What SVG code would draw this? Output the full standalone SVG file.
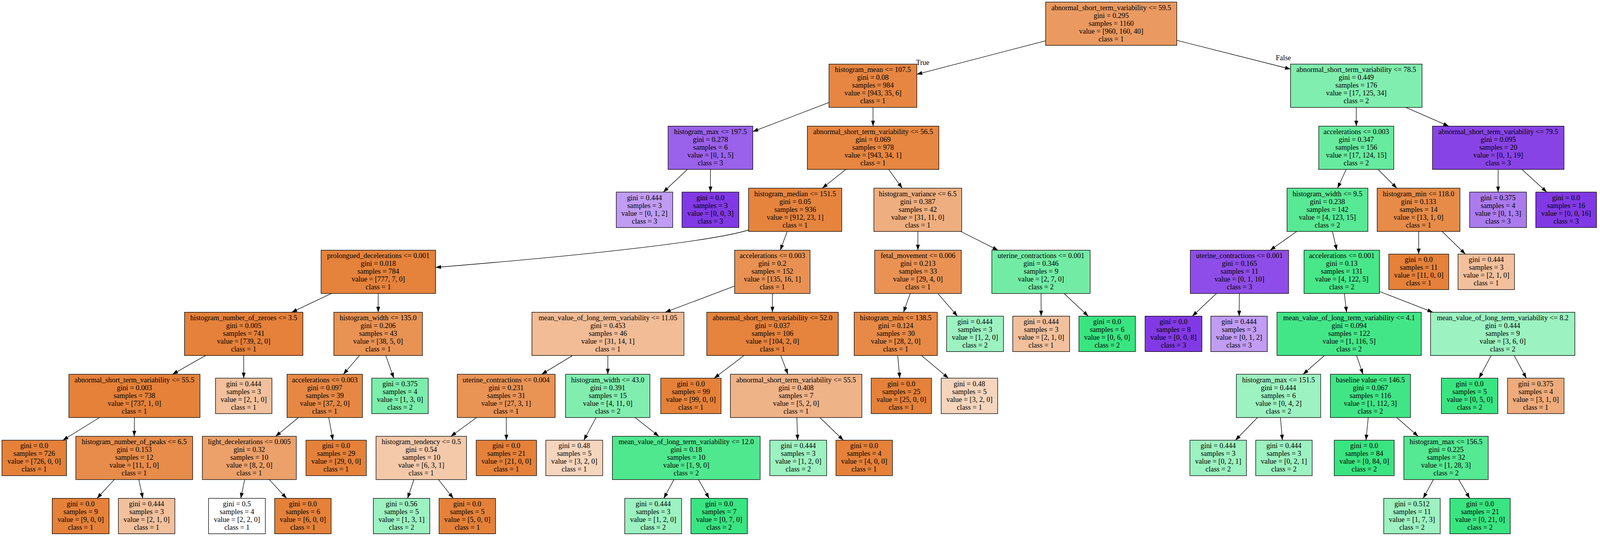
<svg xmlns="http://www.w3.org/2000/svg" width="4132" height="1371" viewBox="0 0 4132 1371">
<style>
.bg{stroke:none;fill:#fff}
.nd rect{stroke:#000;stroke-width:1.33}
text{font-family:"Liberation Serif","Times New Roman",serif;font-size:18.67px;text-anchor:middle;fill:#000}
.lbl{text-anchor:start}
.e{stroke:#000;stroke-width:1.33;fill:none}
.o{fill:#e58139}.g{fill:#39e581}.p{fill:#8139e5}
.lo{fill:#f2c09c}.lg{fill:#9cf2c0}.lp{fill:#c09cf2}
</style>
<defs>
<marker id="a" markerUnits="userSpaceOnUse" markerWidth="16" markerHeight="12" refX="14" refY="5" orient="auto" viewBox="0 0 16 12" overflow="visible">
<path d="M0,0 L14,5 L0,10 z" fill="#000"/>
</marker>
</defs>
<rect class="bg" width="4132" height="1371"/>
<g transform="scale(0.99032 1)">
<g id="connectors" class="e">
<line x1="2703" y1="104.33" x2="2370" y2="190.09" marker-end="url(#a)"/>
<line x1="3042" y1="103.12" x2="3336" y2="176.75" marker-end="url(#a)"/>
<line x1="2143" y1="262.21" x2="1946" y2="336.63" marker-end="url(#a)"/>
<line x1="2256.7" y1="274.67" x2="2256.8" y2="322.67" marker-end="url(#a)"/>
<line x1="3506" y1="274.67" x2="3506" y2="322.67" marker-end="url(#a)"/>
<line x1="3634" y1="274.67" x2="3745" y2="322.67" marker-end="url(#a)"/>
<line x1="1777" y1="433.33" x2="1714.7" y2="491.33" marker-end="url(#a)"/>
<line x1="1836.5" y1="433.33" x2="1836.5" y2="491.33" marker-end="url(#a)"/>
<line x1="2186.7" y1="433.33" x2="2125.8" y2="481.33" marker-end="url(#a)"/>
<line x1="2297.3" y1="433.33" x2="2332.2" y2="481.33" marker-end="url(#a)"/>
<line x1="3480" y1="433.33" x2="3457.5" y2="481.33" marker-end="url(#a)"/>
<line x1="3562.2" y1="433.33" x2="3610.9" y2="481.33" marker-end="url(#a)"/>
<line x1="3872.8" y1="433.33" x2="3872.6" y2="491.33" marker-end="url(#a)"/>
<line x1="3934.2" y1="433.33" x2="3998.4" y2="491.33" marker-end="url(#a)"/>
<path d="M1936,588 C1850,615 1550,650 1126,684" marker-end="url(#a)"/>
<line x1="2034.9" y1="592" x2="2017.1" y2="640" marker-end="url(#a)"/>
<line x1="2372.7" y1="592" x2="2372.8" y2="640" marker-end="url(#a)"/>
<line x1="2483.6" y1="592" x2="2579.9" y2="640" marker-end="url(#a)"/>
<line x1="3352.2" y1="592" x2="3283.3" y2="640" marker-end="url(#a)"/>
<line x1="3444.4" y1="592" x2="3455.6" y2="640" marker-end="url(#a)"/>
<line x1="3667.2" y1="592" x2="3667.3" y2="650" marker-end="url(#a)"/>
<line x1="3728" y1="592" x2="3788" y2="650" marker-end="url(#a)"/>
<line x1="856.6" y1="750.67" x2="754" y2="798.67" marker-end="url(#a)"/>
<line x1="977.8" y1="750.67" x2="977.7" y2="798.67" marker-end="url(#a)"/>
<line x1="1899" y1="731.73" x2="1719.7" y2="798.67" marker-end="url(#a)"/>
<line x1="1996.7" y1="750.67" x2="1996.8" y2="798.67" marker-end="url(#a)"/>
<line x1="2353" y1="750.67" x2="2335.6" y2="798.67" marker-end="url(#a)"/>
<line x1="2424.4" y1="750.67" x2="2475" y2="808.67" marker-end="url(#a)"/>
<line x1="2691.2" y1="750.67" x2="2691.4" y2="808.67" marker-end="url(#a)"/>
<line x1="2750.6" y1="750.67" x2="2813.2" y2="808.67" marker-end="url(#a)"/>
<line x1="3144.5" y1="750.67" x2="3082.2" y2="808.67" marker-end="url(#a)"/>
<line x1="3203.7" y1="750.67" x2="3203.3" y2="808.67" marker-end="url(#a)"/>
<line x1="3475.1" y1="750.67" x2="3480.9" y2="798.67" marker-end="url(#a)"/>
<line x1="3566" y1="745.5" x2="3704" y2="798.67" marker-end="url(#a)"/>
<line x1="531.5" y1="909.33" x2="446" y2="957.33" marker-end="url(#a)"/>
<line x1="630" y1="909.33" x2="630" y2="967.33" marker-end="url(#a)"/>
<line x1="929.4" y1="909.33" x2="887.6" y2="957.33" marker-end="url(#a)"/>
<line x1="997.2" y1="909.33" x2="1017.9" y2="967.33" marker-end="url(#a)"/>
<line x1="1480" y1="909.33" x2="1400.3" y2="957.33" marker-end="url(#a)"/>
<line x1="1571.3" y1="909.33" x2="1571.2" y2="957.33" marker-end="url(#a)"/>
<line x1="1923.4" y1="909.33" x2="1846.3" y2="967.33" marker-end="url(#a)"/>
<line x1="2018.3" y1="909.33" x2="2036.7" y2="957.33" marker-end="url(#a)"/>
<line x1="2320.6" y1="909.33" x2="2325.9" y2="967.33" marker-end="url(#a)"/>
<line x1="2381.9" y1="909.33" x2="2451.6" y2="967.33" marker-end="url(#a)"/>
<line x1="3423.9" y1="909.33" x2="3368.6" y2="957.33" marker-end="url(#a)"/>
<line x1="3506.7" y1="909.33" x2="3523.3" y2="957.33" marker-end="url(#a)"/>
<line x1="3854.7" y1="909.33" x2="3823.4" y2="967.33" marker-end="url(#a)"/>
<line x1="3914.3" y1="909.33" x2="3945.6" y2="967.33" marker-end="url(#a)"/>
<line x1="257.2" y1="1068" x2="162.5" y2="1126" marker-end="url(#a)"/>
<line x1="347.5" y1="1068" x2="347" y2="1116" marker-end="url(#a)"/>
<line x1="771.5" y1="1068" x2="712.5" y2="1116" marker-end="url(#a)"/>
<line x1="849.8" y1="1068" x2="860.6" y2="1126" marker-end="url(#a)"/>
<line x1="1232" y1="1068" x2="1165.6" y2="1116" marker-end="url(#a)"/>
<line x1="1308.8" y1="1068" x2="1309" y2="1126" marker-end="url(#a)"/>
<line x1="1540.8" y1="1068" x2="1509.2" y2="1126" marker-end="url(#a)"/>
<line x1="1641.8" y1="1068" x2="1703.2" y2="1116" marker-end="url(#a)"/>
<line x1="2059.9" y1="1068" x2="2061.9" y2="1126" marker-end="url(#a)"/>
<line x1="2119.4" y1="1068" x2="2180" y2="1126" marker-end="url(#a)"/>
<line x1="3250.6" y1="1068" x2="3193.6" y2="1126" marker-end="url(#a)"/>
<line x1="3309.9" y1="1068" x2="3315" y2="1126" marker-end="url(#a)"/>
<line x1="3536.9" y1="1068" x2="3531.1" y2="1126" marker-end="url(#a)"/>
<line x1="3610.7" y1="1068" x2="3666" y2="1116" marker-end="url(#a)"/>
<line x1="295.5" y1="1226.67" x2="250.7" y2="1274.67" marker-end="url(#a)"/>
<line x1="358.9" y1="1226.67" x2="369.2" y2="1274.67" marker-end="url(#a)"/>
<line x1="632.6" y1="1226.67" x2="622.3" y2="1274.67" marker-end="url(#a)"/>
<line x1="696" y1="1226.67" x2="740.8" y2="1274.67" marker-end="url(#a)"/>
<line x1="1070" y1="1226.67" x2="1053.6" y2="1274.67" marker-end="url(#a)"/>
<line x1="1133.3" y1="1226.67" x2="1171.7" y2="1274.67" marker-end="url(#a)"/>
<line x1="1742.2" y1="1226.67" x2="1716" y2="1274.67" marker-end="url(#a)"/>
<line x1="1805.6" y1="1226.67" x2="1833.1" y2="1274.67" marker-end="url(#a)"/>
<line x1="3705.3" y1="1226.67" x2="3679" y2="1274.67" marker-end="url(#a)"/>
<line x1="3770.8" y1="1226.67" x2="3799.2" y2="1274.67" marker-end="url(#a)"/>
</g>
<g id="edge-labels">
<text class="lbl" x="2368" y="166">True</text>
<text class="lbl" x="3298" y="154">False</text>
</g>
<g class="nd">
<g id="n0"><rect x="2703" y="5.33" width="339" height="110.67" fill="#ea9a61"/><text x="2872.5" y="25.63"><tspan x="2872.5">abnormal_short_term_variability &lt;= 59.5</tspan><tspan x="2872.5" dy="20">gini = 0.295</tspan><tspan x="2872.5" dy="20">samples = 1160</tspan><tspan x="2872.5" dy="20">value = [960, 160, 40]</tspan><tspan x="2872.5" dy="20">class = 1</tspan></text></g>
<g id="n1"><rect x="2143" y="164" width="227" height="110.67" fill="#e68642"/><text x="2256.5" y="184.3"><tspan x="2256.5">histogram_mean &lt;= 107.5</tspan><tspan x="2256.5" dy="20">gini = 0.08</tspan><tspan x="2256.5" dy="20">samples = 984</tspan><tspan x="2256.5" dy="20">value = [943, 35, 6]</tspan><tspan x="2256.5" dy="20">class = 1</tspan></text></g>
<g id="n2"><rect x="3336" y="164" width="340" height="110.67" fill="#80eeae"/><text x="3506" y="184.3"><tspan x="3506">abnormal_short_term_variability &lt;= 78.5</tspan><tspan x="3506" dy="20">gini = 0.449</tspan><tspan x="3506" dy="20">samples = 176</tspan><tspan x="3506" dy="20">value = [17, 125, 34]</tspan><tspan x="3506" dy="20">class = 2</tspan></text></g>
<g id="n3"><rect x="1727" y="322.67" width="219" height="110.67" fill="#9a61ea"/><text x="1836.5" y="342.97"><tspan x="1836.5">histogram_max &lt;= 197.5</tspan><tspan x="1836.5" dy="20">gini = 0.278</tspan><tspan x="1836.5" dy="20">samples = 6</tspan><tspan x="1836.5" dy="20">value = [0, 1, 5]</tspan><tspan x="1836.5" dy="20">class = 3</tspan></text></g>
<g id="n4"><rect x="2087" y="322.67" width="340" height="110.67" fill="#e68640"/><text x="2257" y="342.97"><tspan x="2257">abnormal_short_term_variability &lt;= 56.5</tspan><tspan x="2257" dy="20">gini = 0.069</tspan><tspan x="2257" dy="20">samples = 978</tspan><tspan x="2257" dy="20">value = [943, 34, 1]</tspan><tspan x="2257" dy="20">class = 1</tspan></text></g>
<g id="n5"><rect x="3409" y="322.67" width="194" height="110.67" fill="#67eb9e"/><text x="3506" y="342.97"><tspan x="3506">accelerations &lt;= 0.003</tspan><tspan x="3506" dy="20">gini = 0.347</tspan><tspan x="3506" dy="20">samples = 156</tspan><tspan x="3506" dy="20">value = [17, 124, 15]</tspan><tspan x="3506" dy="20">class = 2</tspan></text></g>
<g id="n6"><rect x="3703" y="322.67" width="340" height="110.67" fill="#8843e6"/><text x="3873" y="342.97"><tspan x="3873">abnormal_short_term_variability &lt;= 79.5</tspan><tspan x="3873" dy="20">gini = 0.095</tspan><tspan x="3873" dy="20">samples = 20</tspan><tspan x="3873" dy="20">value = [0, 1, 19]</tspan><tspan x="3873" dy="20">class = 3</tspan></text></g>
<g id="n7"><rect class="lp" x="1593" y="491.33" width="146" height="90.67"/><text x="1666" y="511.63"><tspan x="1666">gini = 0.444</tspan><tspan x="1666" dy="20">samples = 3</tspan><tspan x="1666" dy="20">value = [0, 1, 2]</tspan><tspan x="1666" dy="20">class = 3</tspan></text></g>
<g id="n8"><rect class="p" x="1763" y="491.33" width="147" height="90.67"/><text x="1836.5" y="511.63"><tspan x="1836.5">gini = 0.0</tspan><tspan x="1836.5" dy="20">samples = 3</tspan><tspan x="1836.5" dy="20">value = [0, 0, 3]</tspan><tspan x="1836.5" dy="20">class = 3</tspan></text></g>
<g id="n9"><rect x="1935" y="481.33" width="241" height="110.67" fill="#e6843e"/><text x="2055.5" y="501.63"><tspan x="2055.5">histogram_median &lt;= 151.5</tspan><tspan x="2055.5" dy="20">gini = 0.05</tspan><tspan x="2055.5" dy="20">samples = 936</tspan><tspan x="2055.5" dy="20">value = [912, 23, 1]</tspan><tspan x="2055.5" dy="20">class = 1</tspan></text></g>
<g id="n10"><rect x="2259" y="481.33" width="227" height="110.67" fill="#eeae7f"/><text x="2372.5" y="501.63"><tspan x="2372.5">histogram_variance &lt;= 6.5</tspan><tspan x="2372.5" dy="20">gini = 0.387</tspan><tspan x="2372.5" dy="20">samples = 42</tspan><tspan x="2372.5" dy="20">value = [31, 11, 0]</tspan><tspan x="2372.5" dy="20">class = 1</tspan></text></g>
<g id="n11"><rect x="3327" y="481.33" width="209" height="110.67" fill="#57e994"/><text x="3431.5" y="501.63"><tspan x="3431.5">histogram_width &lt;= 9.5</tspan><tspan x="3431.5" dy="20">gini = 0.238</tspan><tspan x="3431.5" dy="20">samples = 142</tspan><tspan x="3431.5" dy="20">value = [4, 123, 15]</tspan><tspan x="3431.5" dy="20">class = 2</tspan></text></g>
<g id="n12"><rect x="3560" y="481.33" width="214" height="110.67" fill="#e78b48"/><text x="3667" y="501.63"><tspan x="3667">histogram_min &lt;= 118.0</tspan><tspan x="3667" dy="20">gini = 0.133</tspan><tspan x="3667" dy="20">samples = 14</tspan><tspan x="3667" dy="20">value = [13, 1, 0]</tspan><tspan x="3667" dy="20">class = 1</tspan></text></g>
<g id="n13"><rect x="3799" y="491.33" width="147" height="90.67" fill="#ab7bee"/><text x="3872.5" y="511.63"><tspan x="3872.5">gini = 0.375</tspan><tspan x="3872.5" dy="20">samples = 4</tspan><tspan x="3872.5" dy="20">value = [0, 1, 3]</tspan><tspan x="3872.5" dy="20">class = 3</tspan></text></g>
<g id="n14"><rect class="p" x="3970" y="491.33" width="157" height="90.67"/><text x="4048.5" y="511.63"><tspan x="4048.5">gini = 0.0</tspan><tspan x="4048.5" dy="20">samples = 16</tspan><tspan x="4048.5" dy="20">value = [0, 0, 16]</tspan><tspan x="4048.5" dy="20">class = 3</tspan></text></g>
<g id="n15"><rect x="830" y="640" width="296" height="110.67" fill="#e5823b"/><text x="978" y="660.3"><tspan x="978">prolongued_decelerations &lt;= 0.001</tspan><tspan x="978" dy="20">gini = 0.018</tspan><tspan x="978" dy="20">samples = 784</tspan><tspan x="978" dy="20">value = [777, 7, 0]</tspan><tspan x="978" dy="20">class = 1</tspan></text></g>
<g id="n16"><rect x="1899" y="640" width="195" height="110.67" fill="#e89152"/><text x="1996.5" y="660.3"><tspan x="1996.5">accelerations &lt;= 0.003</tspan><tspan x="1996.5" dy="20">gini = 0.2</tspan><tspan x="1996.5" dy="20">samples = 152</tspan><tspan x="1996.5" dy="20">value = [135, 16, 1]</tspan><tspan x="1996.5" dy="20">class = 1</tspan></text></g>
<g id="n17"><rect x="2261" y="640" width="224" height="110.67" fill="#e99254"/><text x="2373" y="660.3"><tspan x="2373">fetal_movement &lt;= 0.006</tspan><tspan x="2373" dy="20">gini = 0.213</tspan><tspan x="2373" dy="20">samples = 33</tspan><tspan x="2373" dy="20">value = [29, 4, 0]</tspan><tspan x="2373" dy="20">class = 1</tspan></text></g>
<g id="n18"><rect x="2564" y="640" width="254" height="110.67" fill="#72eca5"/><text x="2691" y="660.3"><tspan x="2691">uterine_contractions &lt;= 0.001</tspan><tspan x="2691" dy="20">gini = 0.346</tspan><tspan x="2691" dy="20">samples = 9</tspan><tspan x="2691" dy="20">value = [2, 7, 0]</tspan><tspan x="2691" dy="20">class = 2</tspan></text></g>
<g id="n19"><rect x="3077" y="640" width="254" height="110.67" fill="#8e4de8"/><text x="3204" y="660.3"><tspan x="3204">uterine_contractions &lt;= 0.001</tspan><tspan x="3204" dy="20">gini = 0.165</tspan><tspan x="3204" dy="20">samples = 11</tspan><tspan x="3204" dy="20">value = [0, 1, 10]</tspan><tspan x="3204" dy="20">class = 3</tspan></text></g>
<g id="n20"><rect x="3371" y="640" width="195" height="110.67" fill="#47e78a"/><text x="3468.5" y="660.3"><tspan x="3468.5">accelerations &lt;= 0.001</tspan><tspan x="3468.5" dy="20">gini = 0.13</tspan><tspan x="3468.5" dy="20">samples = 131</tspan><tspan x="3468.5" dy="20">value = [4, 122, 5]</tspan><tspan x="3468.5" dy="20">class = 2</tspan></text></g>
<g id="n21"><rect class="o" x="3590" y="650" width="155" height="90.67"/><text x="3667.5" y="670.3"><tspan x="3667.5">gini = 0.0</tspan><tspan x="3667.5" dy="20">samples = 11</tspan><tspan x="3667.5" dy="20">value = [11, 0, 0]</tspan><tspan x="3667.5" dy="20">class = 1</tspan></text></g>
<g id="n22"><rect class="lo" x="3769" y="650" width="146" height="90.67"/><text x="3842" y="670.3"><tspan x="3842">gini = 0.444</tspan><tspan x="3842" dy="20">samples = 3</tspan><tspan x="3842" dy="20">value = [2, 1, 0]</tspan><tspan x="3842" dy="20">class = 1</tspan></text></g>
<g id="n23"><rect x="477" y="798.67" width="306" height="110.67" fill="#e5813a"/><text x="630" y="818.97"><tspan x="630">histogram_number_of_zeroes &lt;= 3.5</tspan><tspan x="630" dy="20">gini = 0.005</tspan><tspan x="630" dy="20">samples = 741</tspan><tspan x="630" dy="20">value = [739, 2, 0]</tspan><tspan x="630" dy="20">class = 1</tspan></text></g>
<g id="n24"><rect x="863" y="798.67" width="229" height="110.67" fill="#e89253"/><text x="977.5" y="818.97"><tspan x="977.5">histogram_width &lt;= 135.0</tspan><tspan x="977.5" dy="20">gini = 0.206</tspan><tspan x="977.5" dy="20">samples = 43</tspan><tspan x="977.5" dy="20">value = [38, 5, 0]</tspan><tspan x="977.5" dy="20">class = 1</tspan></text></g>
<g id="n25"><rect x="1375" y="798.67" width="393" height="110.67" fill="#f1bc96"/><text x="1571.5" y="818.97"><tspan x="1571.5">mean_value_of_long_term_variability &lt;= 11.05</tspan><tspan x="1571.5" dy="20">gini = 0.453</tspan><tspan x="1571.5" dy="20">samples = 46</tspan><tspan x="1571.5" dy="20">value = [31, 14, 1]</tspan><tspan x="1571.5" dy="20">class = 1</tspan></text></g>
<g id="n26"><rect x="1827" y="798.67" width="340" height="110.67" fill="#e6833d"/><text x="1997" y="818.97"><tspan x="1997">abnormal_short_term_variability &lt;= 52.0</tspan><tspan x="1997" dy="20">gini = 0.037</tspan><tspan x="1997" dy="20">samples = 106</tspan><tspan x="1997" dy="20">value = [104, 2, 0]</tspan><tspan x="1997" dy="20">class = 1</tspan></text></g>
<g id="n27"><rect x="2208" y="798.67" width="215" height="110.67" fill="#e78a47"/><text x="2315.5" y="818.97"><tspan x="2315.5">histogram_min &lt;= 138.5</tspan><tspan x="2315.5" dy="20">gini = 0.124</tspan><tspan x="2315.5" dy="20">samples = 30</tspan><tspan x="2315.5" dy="20">value = [28, 2, 0]</tspan><tspan x="2315.5" dy="20">class = 1</tspan></text></g>
<g id="n28"><rect class="lg" x="2447" y="808.67" width="147" height="90.67"/><text x="2520.5" y="828.97"><tspan x="2520.5">gini = 0.444</tspan><tspan x="2520.5" dy="20">samples = 3</tspan><tspan x="2520.5" dy="20">value = [1, 2, 0]</tspan><tspan x="2520.5" dy="20">class = 2</tspan></text></g>
<g id="n29"><rect class="lo" x="2618" y="808.67" width="147" height="90.67"/><text x="2691.5" y="828.97"><tspan x="2691.5">gini = 0.444</tspan><tspan x="2691.5" dy="20">samples = 3</tspan><tspan x="2691.5" dy="20">value = [2, 1, 0]</tspan><tspan x="2691.5" dy="20">class = 1</tspan></text></g>
<g id="n30"><rect class="g" x="2789" y="808.67" width="146" height="90.67"/><text x="2862" y="828.97"><tspan x="2862">gini = 0.0</tspan><tspan x="2862" dy="20">samples = 6</tspan><tspan x="2862" dy="20">value = [0, 6, 0]</tspan><tspan x="2862" dy="20">class = 2</tspan></text></g>
<g id="n31"><rect class="p" x="2960" y="808.67" width="147" height="90.67"/><text x="3033.5" y="828.97"><tspan x="3033.5">gini = 0.0</tspan><tspan x="3033.5" dy="20">samples = 8</tspan><tspan x="3033.5" dy="20">value = [0, 0, 8]</tspan><tspan x="3033.5" dy="20">class = 3</tspan></text></g>
<g id="n32"><rect class="lp" x="3130" y="808.67" width="146" height="90.67"/><text x="3203" y="828.97"><tspan x="3203">gini = 0.444</tspan><tspan x="3203" dy="20">samples = 3</tspan><tspan x="3203" dy="20">value = [0, 1, 2]</tspan><tspan x="3203" dy="20">class = 3</tspan></text></g>
<g id="n33"><rect x="3301" y="798.67" width="373" height="110.67" fill="#43e687"/><text x="3487.5" y="818.97"><tspan x="3487.5">mean_value_of_long_term_variability &lt;= 4.1</tspan><tspan x="3487.5" dy="20">gini = 0.094</tspan><tspan x="3487.5" dy="20">samples = 122</tspan><tspan x="3487.5" dy="20">value = [1, 116, 5]</tspan><tspan x="3487.5" dy="20">class = 2</tspan></text></g>
<g id="n34"><rect class="lg" x="3698" y="798.67" width="373" height="110.67"/><text x="3884.5" y="818.97"><tspan x="3884.5">mean_value_of_long_term_variability &lt;= 8.2</tspan><tspan x="3884.5" dy="20">gini = 0.444</tspan><tspan x="3884.5" dy="20">samples = 9</tspan><tspan x="3884.5" dy="20">value = [3, 6, 0]</tspan><tspan x="3884.5" dy="20">class = 2</tspan></text></g>
<g id="n35"><rect class="o" x="178" y="957.33" width="339" height="110.67"/><text x="347.5" y="977.63"><tspan x="347.5">abnormal_short_term_variability &lt;= 55.5</tspan><tspan x="347.5" dy="20">gini = 0.003</tspan><tspan x="347.5" dy="20">samples = 738</tspan><tspan x="347.5" dy="20">value = [737, 1, 0]</tspan><tspan x="347.5" dy="20">class = 1</tspan></text></g>
<g id="n36"><rect class="lo" x="557" y="967.33" width="146" height="90.67"/><text x="630" y="987.63"><tspan x="630">gini = 0.444</tspan><tspan x="630" dy="20">samples = 3</tspan><tspan x="630" dy="20">value = [2, 1, 0]</tspan><tspan x="630" dy="20">class = 1</tspan></text></g>
<g id="n37"><rect x="742" y="957.33" width="195" height="110.67" fill="#e68844"/><text x="839.5" y="977.63"><tspan x="839.5">accelerations &lt;= 0.003</tspan><tspan x="839.5" dy="20">gini = 0.097</tspan><tspan x="839.5" dy="20">samples = 39</tspan><tspan x="839.5" dy="20">value = [37, 2, 0]</tspan><tspan x="839.5" dy="20">class = 1</tspan></text></g>
<g id="n38"><rect x="961" y="967.33" width="146" height="90.67" fill="#7beeab"/><text x="1034" y="987.63"><tspan x="1034">gini = 0.375</tspan><tspan x="1034" dy="20">samples = 4</tspan><tspan x="1034" dy="20">value = [1, 3, 0]</tspan><tspan x="1034" dy="20">class = 2</tspan></text></g>
<g id="n39"><rect x="1182" y="957.33" width="253" height="110.67" fill="#e99355"/><text x="1308.5" y="977.63"><tspan x="1308.5">uterine_contractions &lt;= 0.004</tspan><tspan x="1308.5" dy="20">gini = 0.231</tspan><tspan x="1308.5" dy="20">samples = 31</tspan><tspan x="1308.5" dy="20">value = [27, 3, 1]</tspan><tspan x="1308.5" dy="20">class = 1</tspan></text></g>
<g id="n40"><rect x="1462" y="957.33" width="218" height="110.67" fill="#81eeaf"/><text x="1571" y="977.63"><tspan x="1571">histogram_width &lt;= 43.0</tspan><tspan x="1571" dy="20">gini = 0.391</tspan><tspan x="1571" dy="20">samples = 15</tspan><tspan x="1571" dy="20">value = [4, 11, 0]</tspan><tspan x="1571" dy="20">class = 2</tspan></text></g>
<g id="n41"><rect class="o" x="1708" y="967.33" width="156" height="90.67"/><text x="1786" y="987.63"><tspan x="1786">gini = 0.0</tspan><tspan x="1786" dy="20">samples = 99</tspan><tspan x="1786" dy="20">value = [99, 0, 0]</tspan><tspan x="1786" dy="20">class = 1</tspan></text></g>
<g id="n42"><rect x="1888" y="957.33" width="340" height="110.67" fill="#efb388"/><text x="2058" y="977.63"><tspan x="2058">abnormal_short_term_variability &lt;= 55.5</tspan><tspan x="2058" dy="20">gini = 0.408</tspan><tspan x="2058" dy="20">samples = 7</tspan><tspan x="2058" dy="20">value = [5, 2, 0]</tspan><tspan x="2058" dy="20">class = 1</tspan></text></g>
<g id="n43"><rect class="o" x="2252" y="967.33" width="156" height="90.67"/><text x="2330" y="987.63"><tspan x="2330">gini = 0.0</tspan><tspan x="2330" dy="20">samples = 25</tspan><tspan x="2330" dy="20">value = [25, 0, 0]</tspan><tspan x="2330" dy="20">class = 1</tspan></text></g>
<g id="n44"><rect x="2433" y="967.33" width="146" height="90.67" fill="#f6d5bd"/><text x="2506" y="987.63"><tspan x="2506">gini = 0.48</tspan><tspan x="2506" dy="20">samples = 5</tspan><tspan x="2506" dy="20">value = [3, 2, 0]</tspan><tspan x="2506" dy="20">class = 1</tspan></text></g>
<g id="n45"><rect class="lg" x="3196" y="957.33" width="218" height="110.67"/><text x="3305" y="977.63"><tspan x="3305">histogram_max &lt;= 151.5</tspan><tspan x="3305" dy="20">gini = 0.444</tspan><tspan x="3305" dy="20">samples = 6</tspan><tspan x="3305" dy="20">value = [0, 4, 2]</tspan><tspan x="3305" dy="20">class = 2</tspan></text></g>
<g id="n46"><rect x="3439" y="957.33" width="207" height="110.67" fill="#40e685"/><text x="3542.5" y="977.63"><tspan x="3542.5">baseline value &lt;= 146.5</tspan><tspan x="3542.5" dy="20">gini = 0.067</tspan><tspan x="3542.5" dy="20">samples = 116</tspan><tspan x="3542.5" dy="20">value = [1, 112, 3]</tspan><tspan x="3542.5" dy="20">class = 2</tspan></text></g>
<g id="n47"><rect class="g" x="3726" y="967.33" width="146" height="90.67"/><text x="3799" y="987.63"><tspan x="3799">gini = 0.0</tspan><tspan x="3799" dy="20">samples = 5</tspan><tspan x="3799" dy="20">value = [0, 5, 0]</tspan><tspan x="3799" dy="20">class = 2</tspan></text></g>
<g id="n48"><rect x="3897" y="967.33" width="146" height="90.67" fill="#eeab7b"/><text x="3970" y="987.63"><tspan x="3970">gini = 0.375</tspan><tspan x="3970" dy="20">samples = 4</tspan><tspan x="3970" dy="20">value = [3, 1, 0]</tspan><tspan x="3970" dy="20">class = 1</tspan></text></g>
<g id="n49"><rect class="o" x="5" y="1126" width="167" height="90.67"/><text x="88.5" y="1146.3"><tspan x="88.5">gini = 0.0</tspan><tspan x="88.5" dy="20">samples = 726</tspan><tspan x="88.5" dy="20">value = [726, 0, 0]</tspan><tspan x="88.5" dy="20">class = 1</tspan></text></g>
<g id="n50"><rect x="196" y="1116" width="302" height="110.67" fill="#e78c4b"/><text x="347" y="1136.3"><tspan x="347">histogram_number_of_peaks &lt;= 6.5</tspan><tspan x="347" dy="20">gini = 0.153</tspan><tspan x="347" dy="20">samples = 12</tspan><tspan x="347" dy="20">value = [11, 1, 0]</tspan><tspan x="347" dy="20">class = 1</tspan></text></g>
<g id="n51"><rect x="523" y="1116" width="243" height="110.67" fill="#eca06a"/><text x="644.5" y="1136.3"><tspan x="644.5">light_decelerations &lt;= 0.005</tspan><tspan x="644.5" dy="20">gini = 0.32</tspan><tspan x="644.5" dy="20">samples = 10</tspan><tspan x="644.5" dy="20">value = [8, 2, 0]</tspan><tspan x="644.5" dy="20">class = 1</tspan></text></g>
<g id="n52"><rect class="o" x="791" y="1126" width="156" height="90.67"/><text x="869" y="1146.3"><tspan x="869">gini = 0.0</tspan><tspan x="869" dy="20">samples = 29</tspan><tspan x="869" dy="20">value = [29, 0, 0]</tspan><tspan x="869" dy="20">class = 1</tspan></text></g>
<g id="n53"><rect x="972" y="1116" width="234" height="110.67" fill="#f4c9aa"/><text x="1089" y="1136.3"><tspan x="1089">histogram_tendency &lt;= 0.5</tspan><tspan x="1089" dy="20">gini = 0.54</tspan><tspan x="1089" dy="20">samples = 10</tspan><tspan x="1089" dy="20">value = [6, 3, 1]</tspan><tspan x="1089" dy="20">class = 1</tspan></text></g>
<g id="n54"><rect class="o" x="1231" y="1126" width="156" height="90.67"/><text x="1309" y="1146.3"><tspan x="1309">gini = 0.0</tspan><tspan x="1309" dy="20">samples = 21</tspan><tspan x="1309" dy="20">value = [21, 0, 0]</tspan><tspan x="1309" dy="20">class = 1</tspan></text></g>
<g id="n55"><rect x="1411" y="1126" width="147" height="90.67" fill="#f6d5bd"/><text x="1484.5" y="1146.3"><tspan x="1484.5">gini = 0.48</tspan><tspan x="1484.5" dy="20">samples = 5</tspan><tspan x="1484.5" dy="20">value = [3, 2, 0]</tspan><tspan x="1484.5" dy="20">class = 1</tspan></text></g>
<g id="n56"><rect x="1583" y="1116" width="382" height="110.67" fill="#4fe88f"/><text x="1774" y="1136.3"><tspan x="1774">mean_value_of_long_term_variability &lt;= 12.0</tspan><tspan x="1774" dy="20">gini = 0.18</tspan><tspan x="1774" dy="20">samples = 10</tspan><tspan x="1774" dy="20">value = [1, 9, 0]</tspan><tspan x="1774" dy="20">class = 2</tspan></text></g>
<g id="n57"><rect class="lg" x="1990" y="1126" width="147" height="90.67"/><text x="2063.5" y="1146.3"><tspan x="2063.5">gini = 0.444</tspan><tspan x="2063.5" dy="20">samples = 3</tspan><tspan x="2063.5" dy="20">value = [1, 2, 0]</tspan><tspan x="2063.5" dy="20">class = 2</tspan></text></g>
<g id="n58"><rect class="o" x="2161" y="1126" width="146" height="90.67"/><text x="2234" y="1146.3"><tspan x="2234">gini = 0.0</tspan><tspan x="2234" dy="20">samples = 4</tspan><tspan x="2234" dy="20">value = [4, 0, 0]</tspan><tspan x="2234" dy="20">class = 1</tspan></text></g>
<g id="n59"><rect class="lg" x="3076" y="1126" width="146" height="90.67"/><text x="3149" y="1146.3"><tspan x="3149">gini = 0.444</tspan><tspan x="3149" dy="20">samples = 3</tspan><tspan x="3149" dy="20">value = [0, 2, 1]</tspan><tspan x="3149" dy="20">class = 2</tspan></text></g>
<g id="n60"><rect class="lg" x="3246" y="1126" width="146" height="90.67"/><text x="3319" y="1146.3"><tspan x="3319">gini = 0.444</tspan><tspan x="3319" dy="20">samples = 3</tspan><tspan x="3319" dy="20">value = [0, 2, 1]</tspan><tspan x="3319" dy="20">class = 2</tspan></text></g>
<g id="n61"><rect class="g" x="3449" y="1126" width="155" height="90.67"/><text x="3526.5" y="1146.3"><tspan x="3526.5">gini = 0.0</tspan><tspan x="3526.5" dy="20">samples = 84</tspan><tspan x="3526.5" dy="20">value = [0, 84, 0]</tspan><tspan x="3526.5" dy="20">class = 2</tspan></text></g>
<g id="n62"><rect x="3629" y="1116" width="218" height="110.67" fill="#54e992"/><text x="3738" y="1136.3"><tspan x="3738">histogram_max &lt;= 156.5</tspan><tspan x="3738" dy="20">gini = 0.225</tspan><tspan x="3738" dy="20">samples = 32</tspan><tspan x="3738" dy="20">value = [1, 28, 3]</tspan><tspan x="3738" dy="20">class = 2</tspan></text></g>
<g id="n63"><rect class="o" x="135" y="1274.67" width="147" height="90.67"/><text x="208.5" y="1294.97"><tspan x="208.5">gini = 0.0</tspan><tspan x="208.5" dy="20">samples = 9</tspan><tspan x="208.5" dy="20">value = [9, 0, 0]</tspan><tspan x="208.5" dy="20">class = 1</tspan></text></g>
<g id="n64"><rect class="lo" x="306" y="1274.67" width="146" height="90.67"/><text x="379" y="1294.97"><tspan x="379">gini = 0.444</tspan><tspan x="379" dy="20">samples = 3</tspan><tspan x="379" dy="20">value = [2, 1, 0]</tspan><tspan x="379" dy="20">class = 1</tspan></text></g>
<g id="n65"><rect x="539" y="1274.67" width="147" height="90.67" fill="#ffffff"/><text x="612.5" y="1294.97"><tspan x="612.5">gini = 0.5</tspan><tspan x="612.5" dy="20">samples = 4</tspan><tspan x="612.5" dy="20">value = [2, 2, 0]</tspan><tspan x="612.5" dy="20">class = 1</tspan></text></g>
<g id="n66"><rect class="o" x="710" y="1274.67" width="146" height="90.67"/><text x="783" y="1294.97"><tspan x="783">gini = 0.0</tspan><tspan x="783" dy="20">samples = 6</tspan><tspan x="783" dy="20">value = [6, 0, 0]</tspan><tspan x="783" dy="20">class = 1</tspan></text></g>
<g id="n67"><rect class="lg" x="965" y="1274.67" width="146" height="90.67"/><text x="1038" y="1294.97"><tspan x="1038">gini = 0.56</tspan><tspan x="1038" dy="20">samples = 5</tspan><tspan x="1038" dy="20">value = [1, 3, 1]</tspan><tspan x="1038" dy="20">class = 2</tspan></text></g>
<g id="n68"><rect class="o" x="1135" y="1274.67" width="146" height="90.67"/><text x="1208" y="1294.97"><tspan x="1208">gini = 0.0</tspan><tspan x="1208" dy="20">samples = 5</tspan><tspan x="1208" dy="20">value = [5, 0, 0]</tspan><tspan x="1208" dy="20">class = 1</tspan></text></g>
<g id="n69"><rect class="lg" x="1615" y="1274.67" width="147" height="90.67"/><text x="1688.5" y="1294.97"><tspan x="1688.5">gini = 0.444</tspan><tspan x="1688.5" dy="20">samples = 3</tspan><tspan x="1688.5" dy="20">value = [1, 2, 0]</tspan><tspan x="1688.5" dy="20">class = 2</tspan></text></g>
<g id="n70"><rect class="g" x="1786" y="1274.67" width="146" height="90.67"/><text x="1859" y="1294.97"><tspan x="1859">gini = 0.0</tspan><tspan x="1859" dy="20">samples = 7</tspan><tspan x="1859" dy="20">value = [0, 7, 0]</tspan><tspan x="1859" dy="20">class = 2</tspan></text></g>
<g id="n71"><rect class="lg" x="3577" y="1274.67" width="146" height="90.67"/><text x="3650" y="1294.97"><tspan x="3650">gini = 0.512</tspan><tspan x="3650" dy="20">samples = 11</tspan><tspan x="3650" dy="20">value = [1, 7, 3]</tspan><tspan x="3650" dy="20">class = 2</tspan></text></g>
<g id="n72"><rect class="g" x="3748" y="1274.67" width="156" height="90.67"/><text x="3826" y="1294.97"><tspan x="3826">gini = 0.0</tspan><tspan x="3826" dy="20">samples = 21</tspan><tspan x="3826" dy="20">value = [0, 21, 0]</tspan><tspan x="3826" dy="20">class = 2</tspan></text></g>
</g>
</g>
</svg>
